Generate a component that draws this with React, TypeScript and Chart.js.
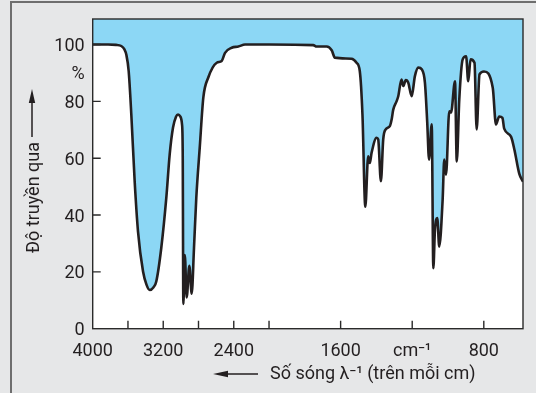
import React, { useEffect, useRef } from 'react';
import { Chart, registerables } from 'chart.js';

Chart.register(...registerables);

// Wavenumber (cm^-1) and transmittance (%)
const wavenumbers = [
  4000, 3826, 3736, 3676, 3640, 3619, 3592, 3562, 3524, 3486, 3429, 3390, 3353, 3310, 3279,
  3222, 3165, 3127, 3089, 3055, 3032, 3005, 2987, 2979, 2972, 2955, 2934, 2904, 2877, 2851,
  2825, 2786, 2745, 2689, 2593, 2537, 2499, 2423, 2348, 2272, 2000, 1753, 1734, 1678, 1650,
  1632, 1539, 1511, 1493, 1478, 1462, 1446, 1437, 1427, 1399, 1390, 1375, 1362, 1349, 1325,
  1315, 1306, 1287, 1278, 1260, 1250, 1236, 1222, 1203, 1185, 1166, 1147, 1129, 1116, 1106,
  1091, 1082, 1073, 1060, 1049, 1030, 1021, 1011, 993, 983, 961, 951, 937, 918, 899,
  887, 874, 852, 840, 824, 799, 750, 732, 714, 696, 686, 648, 629, 602, 581,
];
const transmittance = [
  100, 100, 99.9, 99.5, 98.3, 96.5, 90.7, 75.4, 51.9, 34.2, 20.1, 15.5, 13.6, 14.6, 16.6,
  28.5, 46.1, 61.3, 70.8, 74.6, 75.4, 74.6, 71.9, 62, 8.7, 25.9, 11, 22.1, 12.3, 28.5,
  46.1, 63.7, 81.4, 88.4, 93.6, 94.2, 97.1, 98.9, 99.3, 100, 100, 99.8, 99.3, 99.3, 98,
  95.4, 95, 93.6, 90.7, 75.4, 42.9, 60.7, 58.3, 61.9, 67.2, 66.6, 51.9, 66.6, 70.1, 71.3,
  73.6, 77.1, 80.1, 81.8, 87.7, 85.4, 87.5, 86.6, 81.8, 88.9, 91.9, 91.3, 86.6, 72.5, 59.5,
  71.9, 21.3, 34.8, 38.9, 28.9, 45.4, 59.5, 54.2, 76.5, 76.1, 87.1, 58.9, 80.7, 94.8, 95.9,
  87.1, 94.8, 93.6, 70.1, 89.5, 90.5, 84.8, 71.9, 74.7, 74.2, 70.4, 67.6, 63, 54.6, 51.7,
];

const xTickValues = [4000, 3600, 3200, 2800, 2400, 2000, 1600, 1200, 800];
const xTickLabels = ['4000', '', '3200', '', '2400', '', '1600', 'cm\u207B\u00B9', '800'];
const yTickValues = [0, 20, 40, 60, 80, 90, 100];
const yTickLabels = ['0', '20', '40', '60', '80', '%', '100'];
const yMarkValues = [20, 40, 60, 80, 100];
const xEnd = 581;

const yTitle = 'Độ truyền qua';
const xTitle = 'Số sóng λ\u207B\u00B9 (trên mỗi cm)';

// The spectrum's wavenumber axis doubles its scale below 2000 cm^-1
const K = 2.03;
const toU = (w: number) => (w >= 2000 ? 4000 - w : 2000 + K * (2000 - w));
const fromU = (u: number) => (u <= 2000 ? 4000 - u : 2000 - (u - 2000) / K);

const INK = '#231f20';
const FONT = 'Roboto, "DejaVu Sans", sans-serif';

const framePlugin = {
  id: 'frame',
  beforeDraw(chart: any) {
    const { ctx, chartArea: a } = chart;
    ctx.save();
    ctx.fillStyle = '#ffffff';
    ctx.fillRect(a.left, a.top, a.right - a.left, a.bottom - a.top);
    ctx.restore();
  },
  afterDatasetsDraw(chart: any) {
    const { ctx, chartArea: a, scales } = chart;
    ctx.save();
    ctx.strokeStyle = '#2a2a2a';
    ctx.lineWidth = 1.4;
    ctx.strokeRect(a.left, a.top, a.right - a.left, a.bottom - a.top);
    ctx.beginPath();
    xTickValues.forEach((w) => {
      if (w === 4000) return;
      const px = scales.x.getPixelForValue(toU(w));
      ctx.moveTo(px, a.bottom);
      ctx.lineTo(px, a.bottom - 8);
    });
    yMarkValues.forEach((v) => {
      const py = scales.y.getPixelForValue(v);
      ctx.moveTo(a.left, py);
      ctx.lineTo(a.left + 8, py);
    });
    ctx.stroke();
    ctx.restore();
  },
  afterDraw(chart: any) {
    const { ctx } = chart;
    ctx.save();
    ctx.fillStyle = INK;
    ctx.strokeStyle = INK;
    ctx.font = '18px ' + FONT;
    // x title
    ctx.textAlign = 'left';
    ctx.textBaseline = 'alphabetic';
    ctx.fillText(xTitle, 270, 379);
    ctx.lineWidth = 1.5;
    ctx.beginPath();
    ctx.moveTo(258, 374);
    ctx.lineTo(224, 374);
    ctx.stroke();
    ctx.beginPath();
    ctx.moveTo(213, 374);
    ctx.lineTo(228, 370.8);
    ctx.lineTo(228, 377.2);
    ctx.closePath();
    ctx.fill();
    // y title
    ctx.save();
    ctx.translate(39, 253);
    ctx.rotate(-Math.PI / 2);
    ctx.fillText(yTitle, 0, 0);
    ctx.restore();
    ctx.beginPath();
    ctx.moveTo(32, 137);
    ctx.lineTo(32, 100);
    ctx.stroke();
    ctx.beginPath();
    ctx.moveTo(32, 89);
    ctx.lineTo(28.8, 103);
    ctx.lineTo(35.2, 103);
    ctx.closePath();
    ctx.fill();
    ctx.restore();
  },
};

export default function App() {
  const ref = useRef<HTMLCanvasElement | null>(null);

  useEffect(() => {
    document.body.style.margin = '0';
    if (!ref.current) return;
    const data = wavenumbers.map((w, i) => ({ x: toU(w), y: transmittance[i] }));
    const chart = new Chart(ref.current, {
      type: 'line',
      data: {
        datasets: [
          {
            data,
            borderColor: INK,
            borderWidth: 2.6,
            backgroundColor: '#8cd7f5',
            fill: 'end',
            pointRadius: 0,
            cubicInterpolationMode: 'monotone',
          },
        ],
      },
      options: {
        animation: false,
        responsive: false,
        devicePixelRatio: 1,
        layout: { padding: { top: 19, right: 13, left: 0, bottom: 0 } },
        plugins: { legend: { display: false }, tooltip: { enabled: false } },
        scales: {
          x: {
            type: 'linear',
            min: 0,
            max: toU(xEnd),
            grid: { display: false, drawTicks: false },
            border: { display: false },
            afterBuildTicks: (scale: any) => {
              scale.ticks = xTickValues.map((w) => ({ value: toU(w) }));
            },
            afterFit: (scale: any) => {
              scale.height = 64.3;
            },
            ticks: {
              autoSkip: false,
              maxRotation: 0,
              padding: 12,
              color: INK,
              font: { family: FONT, size: 18 },
              callback: (v: any) => {
                const w = Math.round(fromU(Number(v)));
                const i = xTickValues.indexOf(w);
                return i >= 0 ? xTickLabels[i] : '';
              },
            },
          },
          y: {
            type: 'linear',
            min: 0,
            max: 109,
            grid: { display: false, drawTicks: false },
            border: { display: false },
            afterBuildTicks: (scale: any) => {
              scale.ticks = yTickValues.map((v) => ({ value: v }));
            },
            afterFit: (scale: any) => {
              scale.width = 92.7;
            },
            ticks: {
              autoSkip: false,
              padding: 8,
              labelOffset: 2,
              color: INK,
              font: { family: FONT, size: 18 },
              callback: (v: any) => {
                const i = yTickValues.indexOf(Number(v));
                return i >= 0 ? yTickLabels[i] : '';
              },
            },
          },
        },
      },
      plugins: [framePlugin],
    } as any);
    return () => chart.destroy();
  }, []);

  return (
    <div
      style={{
        position: 'relative',
        width: 536,
        height: 393,
        overflow: 'hidden',
        background: '#e6e7e8',
      }}
    >
      <div
        style={{
          position: 'absolute',
          left: 10,
          top: 1,
          width: 600,
          height: 500,
          borderTop: '2px solid #6e6e6e',
          borderLeft: '2px solid #6e6e6e',
        }}
      />
      <canvas
        ref={ref}
        width={536}
        height={393}
        style={{ position: 'absolute', left: 0, top: 0, width: 536, height: 393 }}
      />
    </div>
  );
}
